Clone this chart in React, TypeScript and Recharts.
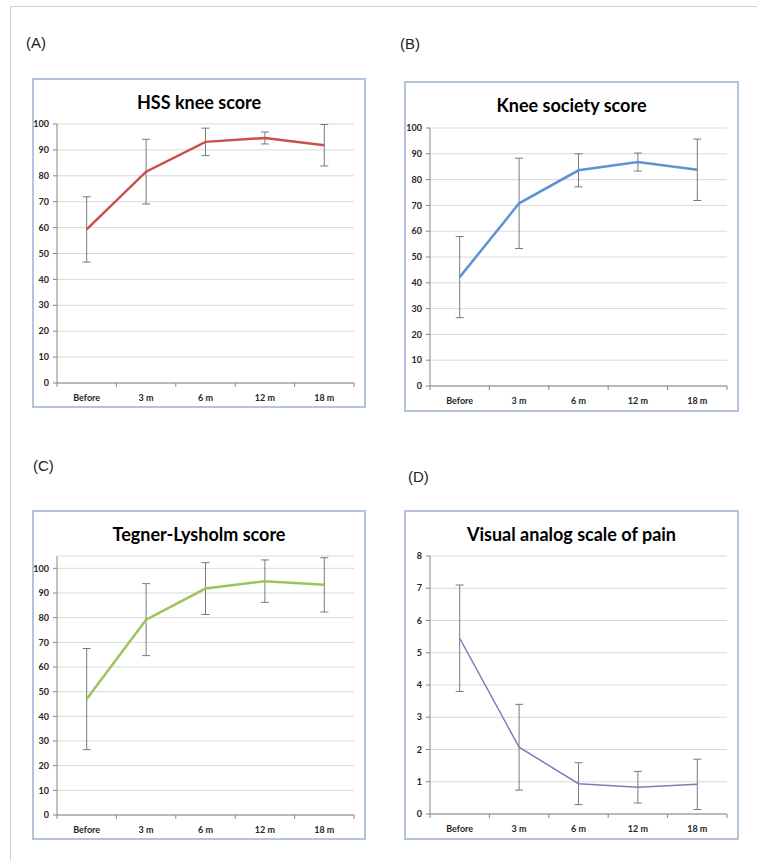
import React from 'react'
import { LineChart, Line, XAxis, YAxis, CartesianGrid, ErrorBar } from 'recharts'

const categories = ['Before', '3 m', '6 m', '12 m', '18 m']

const hssMean = [59.3, 81.6, 93.1, 94.6, 91.8]
const hssSd = [12.6, 12.5, 5.3, 2.3, 8.0]

const kssMean = [42.2, 70.8, 83.6, 86.8, 83.8]
const kssSd = [15.7, 17.5, 6.4, 3.5, 11.9]

const lysholmMean = [47.0, 79.2, 91.8, 94.8, 93.3]
const lysholmSd = [20.5, 14.6, 10.5, 8.6, 11.0]

const vasMean = [5.45, 2.07, 0.94, 0.83, 0.92]
const vasSd = [1.65, 1.33, 0.65, 0.49, 0.78]

const scoreTicks = [0, 10, 20, 30, 40, 50, 60, 70, 80, 90, 100]
const vasTicks = [0, 1, 2, 3, 4, 5, 6, 7, 8]

const FONT = 'Lato, "Open Sans", sans-serif'

type Box = { x: number; y: number; w: number; h: number }
type Plot = { left: number; right: number; top: number; bottom: number }

interface PanelProps {
  letter: string
  letterPos: { x: number; y: number }
  title: string
  means: number[]
  sds: number[]
  color: string
  lineWidth: number
  domain: [number, number]
  ticks: number[]
  box: Box
  plot: Plot
}

function Panel({ letter, letterPos, title, means, sds, color, lineWidth, domain, ticks, box, plot }: PanelProps) {
  const rows = categories.map((name, i) => ({ name, mean: means[i], sd: sds[i] }))
  const plotW = plot.right - plot.left
  const bw = plotW / categories.length
  const xAxisH = box.y + box.h - plot.bottom
  const yAxisW = plot.left - box.x

  const XTick = (props: any) => {
    const { x, y, payload, index } = props
    return (
      <g>
        {index === 0 && (
          <line x1={x - bw / 2} y1={y} x2={x - bw / 2} y2={y + 4} stroke="#868686" />
        )}
        <line x1={x + bw / 2} y1={y} x2={x + bw / 2} y2={y + 4} stroke="#868686" />
        <text
          x={x}
          y={y + 14}
          textAnchor="middle"
          dominantBaseline="central"
          fontFamily={FONT}
          fontWeight={700}
          fontSize={9}
          fill="#262626"
        >
          {payload.value}
        </text>
      </g>
    )
  }

  return (
    <>
      <div
        style={{
          position: 'absolute',
          left: letterPos.x,
          top: letterPos.y,
          fontFamily: '"Liberation Sans", Arial, sans-serif',
          fontSize: 15,
          color: '#222',
          lineHeight: '16px',
        }}
      >
        {letter}
      </div>
      <div
        style={{
          position: 'absolute',
          left: box.x,
          top: box.y,
          width: box.w,
          height: box.h,
          boxSizing: 'border-box',
          border: '2px solid #b3c3dc',
          background: '#fff',
        }}
      />
      <div
        style={{
          position: 'absolute',
          left: box.x,
          top: box.y + 13,
          width: box.w,
          textAlign: 'center',
          fontFamily: FONT,
          fontWeight: 700,
          fontSize: 18,
          lineHeight: '22px',
          color: '#000',
        }}
      >
        {title}
      </div>
      <div style={{ position: 'absolute', left: box.x, top: box.y }}>
        <LineChart
          width={box.w}
          height={box.h}
          data={rows}
          margin={{ top: plot.top - box.y, right: box.x + box.w - plot.right, bottom: 0, left: 0 }}
        >
          <CartesianGrid vertical={false} stroke="#d9d9d9" strokeWidth={1} />
          <XAxis
            dataKey="name"
            scale="band"
            height={xAxisH}
            stroke="#868686"
            tickLine={false}
            tickSize={0}
            tickMargin={0}
            tick={<XTick />}
            interval={0}
          />
          <YAxis
            width={yAxisW}
            domain={domain}
            ticks={ticks}
            interval={0}
            stroke="#868686"
            tickSize={4}
            tickMargin={4}
            tick={{ fontFamily: FONT, fontWeight: 700, fontSize: 9, fill: '#262626' }}
          />
          <Line
            type="linear"
            dataKey="mean"
            stroke={color}
            strokeWidth={lineWidth}
            dot={false}
            activeDot={false}
            isAnimationActive={false}
          >
            <ErrorBar dataKey="sd" direction="y" width={4} stroke="#7a7a7a" strokeWidth={1} />
          </Line>
        </LineChart>
      </div>
    </>
  )
}

export default function App() {
  return (
    <div style={{ position: 'absolute', left: 0, top: 0, width: 757, height: 861, background: '#fff', overflow: 'hidden' }}>
      <div style={{ position: 'absolute', left: 10, top: 6, width: 747, height: 0, borderTop: '1px solid #c9d2de' }} />
      <div style={{ position: 'absolute', left: 10, top: 6, width: 0, height: 855, borderLeft: '1px solid #c9d2de' }} />
      <Panel
        letter="(A)"
        letterPos={{ x: 26, y: 35 }}
        title="HSS knee score"
        means={hssMean}
        sds={hssSd}
        color="#c9504c"
        lineWidth={2.5}
        domain={[0, 100]}
        ticks={scoreTicks}
        box={{ x: 32, y: 78, w: 334, h: 330 }}
        plot={{ left: 57, right: 354, top: 124, bottom: 383 }}
      />
      <Panel
        letter="(B)"
        letterPos={{ x: 400, y: 36 }}
        title="Knee society score"
        means={kssMean}
        sds={kssSd}
        color="#5b93d3"
        lineWidth={2.5}
        domain={[0, 100]}
        ticks={scoreTicks}
        box={{ x: 404, y: 81, w: 335, h: 331 }}
        plot={{ left: 430, right: 727, top: 128, bottom: 386 }}
      />
      <Panel
        letter="(C)"
        letterPos={{ x: 33, y: 458 }}
        title="Tegner-Lysholm score"
        means={lysholmMean}
        sds={lysholmSd}
        color="#9bc45a"
        lineWidth={2.5}
        domain={[0, 105]}
        ticks={scoreTicks}
        box={{ x: 32, y: 510, w: 334, h: 330 }}
        plot={{ left: 57, right: 354, top: 556, bottom: 815 }}
      />
      <Panel
        letter="(D)"
        letterPos={{ x: 408, y: 469 }}
        title="Visual analog scale of pain"
        means={vasMean}
        sds={vasSd}
        color="#8f73b8"
        lineWidth={1.5}
        domain={[0, 8]}
        ticks={vasTicks}
        box={{ x: 404, y: 510, w: 335, h: 330 }}
        plot={{ left: 430, right: 727, top: 556, bottom: 814 }}
      />
    </div>
  )
}
